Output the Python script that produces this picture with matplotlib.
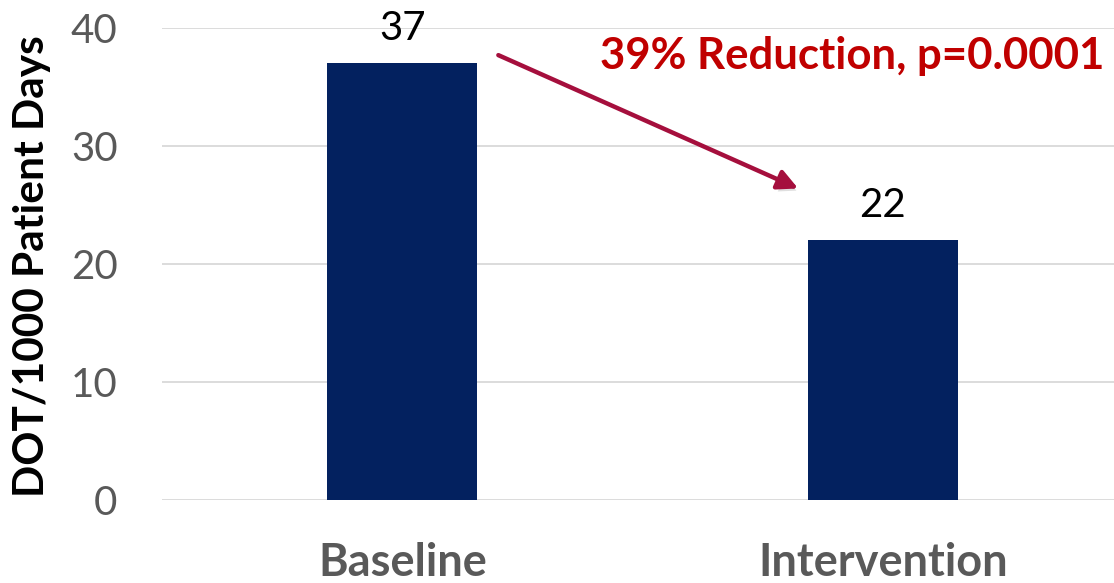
import matplotlib
matplotlib.use("Agg")
import matplotlib.pyplot as plt
import matplotlib.patheffects as pe

# Antibiotic use before and after the intervention
categories = ["Baseline", "Intervention"]
dot_rates = [37, 22]
y_ticks = [0, 10, 20, 30, 40]
annotation_text = "39% Reduction, p=0.0001"
y_label = "DOT/1000 Patient Days"

W, H, DPI = 1114, 583, 100
fig = plt.figure(figsize=(W / DPI, H / DPI), dpi=DPI)
fig.patch.set_facecolor("white")

# plot area in pixels: left 162, bottom edge at y=500, top at y=28
left, right, top, bottom = 162, 162 + 961, 28, 500
ax = fig.add_axes([left / W, (H - bottom) / H, (right - left) / W, (bottom - top) / H])

FONT = "Lato"
bar_color = "#03215F"
x = range(len(categories))
bars = ax.bar(x, dot_rates, width=0.312, color=bar_color, zorder=3)

ax.set_xlim(-0.5, 1.5)
ax.set_ylim(0, 40)
ax.set_yticks(y_ticks)
ax.set_yticklabels([str(t) for t in y_ticks], fontfamily=FONT, fontsize=29, color="#595959")
ax.tick_params(axis="y", length=0, pad=32)
ax.set_xticks(list(x))
ax.set_xticklabels(categories, fontfamily=FONT, fontsize=32.5, fontweight="bold", color="#595959")
ax.tick_params(axis="x", length=0, pad=30)

ax.grid(axis="y", color="#D9D9D9", linewidth=1.3, zorder=0)
for s in ax.spines.values():
    s.set_visible(False)

# value labels above each bar
for xi, v in zip(x, dot_rates):
    ax.annotate(f"{v}", xy=(xi, v), xytext=(0, 17), textcoords="offset points",
                ha="center", va="baseline", fontfamily=FONT, fontsize=29, color="black")

# y axis title
fig.text(32 / W, 1 - 266 / H, y_label, rotation=90, ha="center", va="center",
         fontfamily=FONT, fontsize=30.5, fontweight="bold", color="black")

# reduction arrow with a soft drop shadow
arrow_color = "#A50F3D"
ax.annotate("", xy=(0.824, 26.4), xytext=(0.2, 37.7),
            arrowprops=dict(arrowstyle="-|>,head_length=1.2,head_width=0.6",
                            color=arrow_color, lw=3.2, shrinkA=0, shrinkB=0,
                            path_effects=[pe.SimplePatchShadow(offset=(2, -3), alpha=0.25,
                                                               shadow_rgbFace="#808080"),
                                          pe.Normal()]),
            zorder=5)

fig.text(1104 / W, 1 - 56 / H, annotation_text, ha="right", va="center",
         fontfamily=FONT, fontsize=31.5, fontweight="bold", color="#C00000")

fig.savefig("out.png", dpi=DPI, facecolor="white")
